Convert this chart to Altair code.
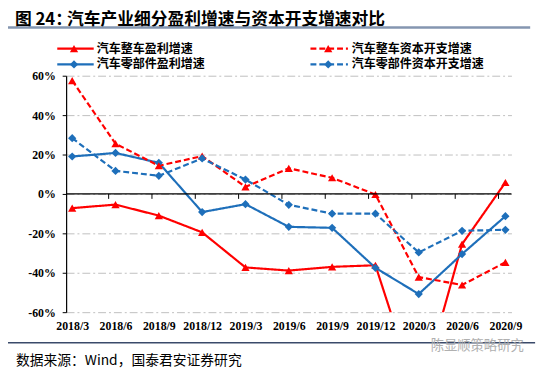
import altair as alt
import pandas as pd

dates = ["2018/3", "2018/6", "2018/9", "2018/12", "2019/3", "2019/6",
         "2019/9", "2019/12", "2020/3", "2020/6", "2020/9"]

series_names = ["汽车整车盈利增速", "汽车零部件盈利增速",
                "汽车整车资本开支增速", "汽车零部件资本开支增速"]

car_profit = [-7.2, -5.4, -11.0, -19.5, -37.3, -38.9, -37.0, -36.2, -104.0, -25.5, 5.8]
parts_profit = [19.0, 20.8, 15.8, -9.2, -5.2, -16.7, -17.2, -37.5, -50.8, -30.5, -11.3]
car_capex = [57.5, 25.5, 14.3, 19.2, 3.6, 13.0, 8.2, -0.3, -42.2, -46.2, -34.7]
parts_capex = [28.3, 11.7, 9.2, 18.0, 7.3, -5.5, -10.0, -10.0, -29.7, -18.7, -18.2]

y_ticks = [-60, -40, -20, 0, 20, 40, 60]

title_prefix = "图 24："
title_text = "汽车产业细分盈利增速与资本开支增速对比"
source_text = "数据来源：Wind，国泰君安证券研究"
watermark_text = "陈显顺策略研究"

RED = "#FF0000"
BLUE = "#1E6FBA"
colors = [RED, BLUE, RED, BLUE]
dashes = [[1, 0], [1, 0], [6, 3], [6, 3]]
shapes = ["triangle-up", "diamond", "triangle-up", "diamond"]

rows = []
for name, vals in zip(series_names, [car_profit, parts_profit, car_capex, parts_capex]):
    for d, v in zip(dates, vals):
        rows.append({"date": d, "value": v, "series": name})
df = pd.DataFrame(rows)

W, H = 452, 240

x_scale = alt.Scale(type="point", padding=0.14)
x_enc = alt.X("date:O", sort=dates, scale=x_scale,
              axis=alt.Axis(title=None, labelAngle=0, domain=False, ticks=False,
                            grid=False, labelPadding=9,
                            labelFont="Liberation Serif", labelFontWeight="bold",
                            labelFontSize=12, labelColor="#000"))
y_enc = alt.Y("value:Q",
              scale=alt.Scale(domain=[-60, 60], nice=False, zero=False),
              axis=alt.Axis(title=None, values=y_ticks, tickCount=12,
                            labelExpr="datum.value + '%'",
                            labelOverlap=False, labelFlush=False,
                            grid=True, gridColor="#BFBFBF", gridDash=[8, 3, 2, 3],
                            gridWidth=1, domainColor="#000", domainWidth=1.2,
                            tickColor="#000", tickSize=4, labelPadding=7,
                            labelFont="Liberation Serif", labelFontWeight="bold",
                            labelFontSize=12, labelColor="#000"))
color_enc = alt.Color("series:N", scale=alt.Scale(domain=series_names, range=colors), legend=None)
dash_enc = alt.StrokeDash("series:N", scale=alt.Scale(domain=series_names, range=dashes), legend=None)
shape_enc = alt.Shape("series:N", scale=alt.Scale(domain=series_names, range=shapes), legend=None)

base = alt.Chart(df)

lines = base.mark_line(strokeWidth=2.2, clip=True).encode(
    x=x_enc, y=y_enc, color=color_enc, strokeDash=dash_enc, detail="series:N")
points = base.mark_point(filled=True, size=70, opacity=1, clip=True).encode(
    x=x_enc, y=y_enc, color=color_enc, shape=shape_enc)

zero_rule = alt.Chart(pd.DataFrame({"value": [0]})).mark_rule(color="#000", strokeWidth=1.2).encode(
    y="value:Q")

# small category tick marks hanging below the zero line
tick_df = pd.DataFrame({"date": dates[:-1], "value": [0] * (len(dates) - 1),
                        "low": [-2.5] * (len(dates) - 1)})
zero_ticks = alt.Chart(tick_df).mark_rule(color="#000", strokeWidth=1, xOffset=37).encode(
    x=alt.X("date:O", sort=dates, scale=x_scale), y="value:Q", y2="low:Q")

one = pd.DataFrame({"a": [0]})

def text_layer(txt, x, y, size, color="#000", weight="normal", font="Noto Sans CJK SC"):
    return alt.Chart(one).mark_text(text=txt, align="left", baseline="middle",
                                    fontSize=size, font=font, fontWeight=weight,
                                    color=color).encode(x=alt.value(x), y=alt.value(y))

def hrule(x1, x2, y, color, width, dash=None):
    kw = dict(color=color, strokeWidth=width)
    if dash is not None:
        kw["strokeDash"] = dash
    return alt.Chart(one).mark_rule(**kw).encode(
        x=alt.value(x1), x2=alt.value(x2), y=alt.value(y))

def marker(x, y, shape, color):
    return alt.Chart(one).mark_point(shape=shape, filled=True, size=70, opacity=1,
                                     color=color).encode(x=alt.value(x), y=alt.value(y))

# legend layout (plot-relative pixel positions)
leg_pos = [(-9, 28, 8, 31, -27.5), (-9, 28, 8, 31, -11.5),
           (248, 286, 266, 290, -27.5), (248, 286, 266, 290, -11.5)]
legend_layers = []
for name, col, dsh, shp, (x1, x2, xm, xt, yy) in zip(series_names, colors, dashes, shapes, leg_pos):
    legend_layers.append(hrule(x1, x2, yy, col, 2.2, dsh))
    legend_layers.append(marker(xm, yy, shp, col))
    legend_layers.append(text_layer(name, xt, yy, 12.2, weight="bold"))

decor = [
    text_layer(title_prefix, -52, -56.5, 17, weight="bold"),
    text_layer(title_text, 1, -56.5, 17, weight="bold"),
    hrule(-61, 471, -49, "#8496B0", 2.5),
    hrule(-61, 476, 271, "#3A4A6A", 1.5),
    text_layer(source_text, -51, 290, 14),
    text_layer(watermark_text, 370, 274, 13.5, color="#B0B0B0"),
]

chart = alt.layer(
    lines, points, zero_rule, zero_ticks, *legend_layers, *decor
).properties(
    width=W, height=H,
    autosize=alt.AutoSizeParams(type="none"),
    padding={"left": 59, "top": 66, "right": 31, "bottom": 58},
    background="white"
).configure_view(stroke=None)

chart.save("out.html", embed_options={"renderer": "svg", "actions": False})
